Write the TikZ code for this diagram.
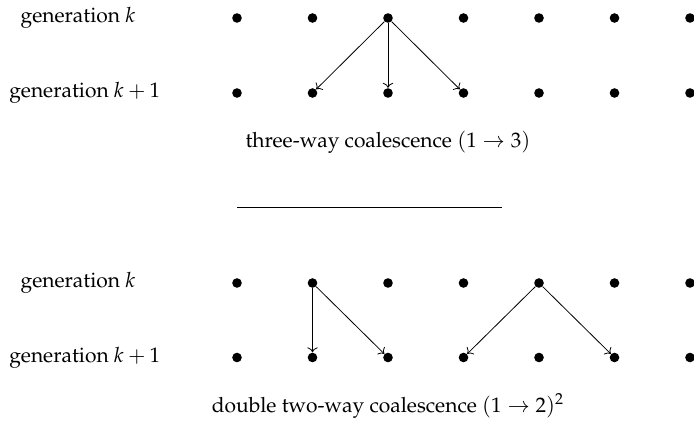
\documentclass[tikz,border=0pt]{standalone}
\usepackage[T1]{fontenc}
\usepackage{mathpazo}
\usetikzlibrary{arrows.meta}

\begin{document}
\begin{tikzpicture}[
  x=0.5pt, y=-0.5pt,
  font=\fontsize{10.5}{12.6}\selectfont,
  dot/.style={circle, fill=black, inner sep=0pt, minimum size=4.8pt},
  label/.style={inner sep=0pt},
  edge/.style={->, line width=0.4pt}
]
\useasboundingbox (0,0) rectangle (694,427);

% generations before and after one step
\foreach \i in {1,...,7} {
  \node[dot] (a\i) at ({237+75.5*(\i-1)},18) {};
  \node[dot] (b\i) at ({237+75.5*(\i-1)},93) {};
  \node[dot] (c\i) at ({237+75.5*(\i-1)},283) {};
  \node[dot] (d\i) at ({237+75.5*(\i-1)},357.5) {};
}

\node[label] (ka) at (78,18) {generation $k$};
\node[label] (kb) at (84.7,93) {generation $k+1$};
\node[label] (kc) at (78,283) {generation $k$};
\node[label] (kd) at (84.7,357.5) {generation $k+1$};

% three-way
\draw[edge] (a3) -- (b2);
\draw[edge] (a3) -- (b3);
\draw[edge] (a3) -- (b4);
\node[label] (cap1) at (388,142) {three-way coalescence $(1\to 3)$};

\draw[line width=0.5pt] (237,207.3) -- (501.5,207.3);

% double two-way
\draw[edge] (c2) -- (d2);
\draw[edge] (c2) -- (d3);
\draw[edge] (c5) -- (d4);
\draw[edge] (c5) -- (d6);
\node[label] (cap2) at (388,406) {double two-way coalescence $(1\to 2)^2$};

\end{tikzpicture}
\end{document}
